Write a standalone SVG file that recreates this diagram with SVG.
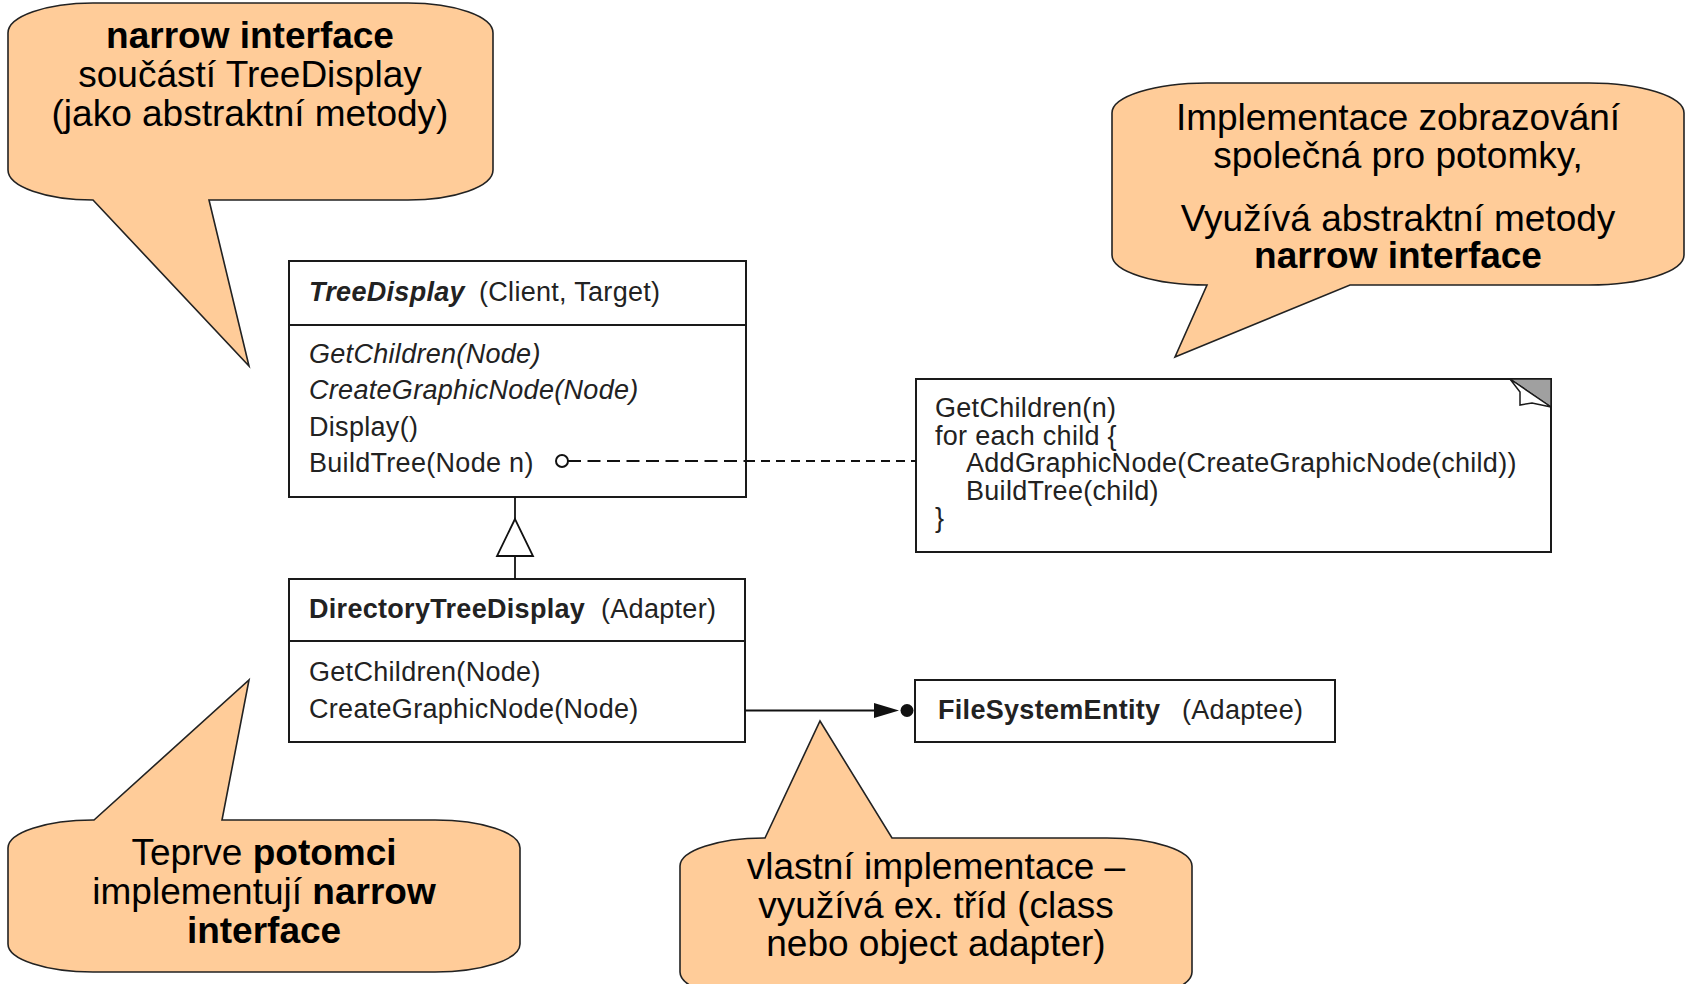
<svg xmlns="http://www.w3.org/2000/svg" width="1688" height="984" viewBox="0 0 1688 984">
<style>
.callout{fill:#ffcc99;stroke:#222;stroke-width:1.6}
.ct{font-family:"Liberation Sans",Arial,sans-serif;font-size:37px;fill:#000;text-anchor:middle}
.b{font-weight:bold}
.box{fill:#fff;stroke:#1a1a1a;stroke-width:2}
.sep{stroke:#1a1a1a;stroke-width:2}
.ut{font-family:"Liberation Sans",Arial,sans-serif;font-size:27px;fill:#222;letter-spacing:0.3px}
.it{font-style:italic}
.line{stroke:#111;stroke-width:1.8;fill:none}
</style>
<rect width="1688" height="984" fill="#fff"/>

<g id="treedisplay">
  <rect class="box" x="289" y="261" width="457" height="236"/>
  <line class="sep" x1="289" y1="325" x2="746" y2="325"/>
  <text class="ut" x="309" y="301"><tspan class="b it">TreeDisplay</tspan></text>
  <text class="ut" x="479" y="301">(Client, Target)</text>
  <text class="ut it" x="309" y="363">GetChildren(Node)</text>
  <text class="ut it" x="309" y="399">CreateGraphicNode(Node)</text>
  <text class="ut" x="309" y="436">Display()</text>
  <text class="ut" x="309" y="472">BuildTree(Node n)</text>
</g>

<g id="note">
  <rect class="box" x="916" y="379" width="635" height="173"/>
  <polygon points="1510,379 1551,379 1551,407" fill="#a0a0a0" stroke="#1a1a1a" stroke-width="1.5"/>
  <polygon points="1510,379 1551,407 1532,403 1520,405 1520,392" fill="#fff" stroke="#1a1a1a" stroke-width="1.5"/>
  <text class="ut" x="935" y="417">GetChildren(n)</text>
  <text class="ut" x="935" y="445">for each child {</text>
  <text class="ut" x="966" y="472">AddGraphicNode(CreateGraphicNode(child))</text>
  <text class="ut" x="966" y="500">BuildTree(child)</text>
  <text class="ut" x="935" y="527">}</text>
</g>

<g id="directorytreedisplay">
  <rect class="box" x="289" y="579" width="456" height="163"/>
  <line class="sep" x1="289" y1="641" x2="745" y2="641"/>
  <text class="ut b" x="309" y="618">DirectoryTreeDisplay</text>
  <text class="ut" x="601" y="618">(Adapter)</text>
  <text class="ut" x="309" y="681">GetChildren(Node)</text>
  <text class="ut" x="309" y="718">CreateGraphicNode(Node)</text>
</g>

<g id="filesystementity">
  <rect class="box" x="915" y="680" width="420" height="62"/>
  <text class="ut b" x="938" y="719">FileSystemEntity</text>
  <text class="ut" x="1182" y="719">(Adaptee)</text>
</g>

<g id="connectors">
  <line class="line" x1="515" y1="497" x2="515" y2="519"/>
  <polygon points="515,519 497,556 533,556" fill="#fff" stroke="#111" stroke-width="1.8"/>
  <line class="line" x1="515" y1="556" x2="515" y2="579"/>
  <line class="line" x1="568" y1="461" x2="746" y2="461" stroke-dasharray="13,6.5" stroke-width="2"/>
  <line class="line" x1="746" y1="461" x2="916" y2="461" stroke-dasharray="9,6" stroke-width="1.3"/>
  <circle cx="562" cy="461" r="6" fill="#fff" stroke="#111" stroke-width="2"/>
  <line class="line" x1="745" y1="710.5" x2="876" y2="710.5"/>
  <polygon points="874,703 874,718 899,710.5" fill="#111"/>
  <circle cx="907" cy="710.5" r="6.5" fill="#111"/>
</g>

<g id="callout-narrow">
  <path class="callout" d="M 8 33 A 85 30 0 0 1 93 3 L 408 3 A 85 30 0 0 1 493 33 L 493 170 A 85 30 0 0 1 408 200 L 209 200 L 249 366 L 93 200 A 85 30 0 0 1 8 170 Z"/>
  <text class="ct b" x="250" y="48">narrow interface</text>
  <text class="ct" x="250" y="87">součástí TreeDisplay</text>
  <text class="ct" x="250" y="126">(jako abstraktní metody)</text>
</g>

<g id="callout-impl">
  <path class="callout" d="M 1112 113 A 95 30 0 0 1 1207 83 L 1589 83 A 95 30 0 0 1 1684 113 L 1684 255 A 95 30 0 0 1 1589 285 L 1350 285 L 1175 357 L 1207 285 A 95 30 0 0 1 1112 255 Z"/>
  <text class="ct" x="1398" y="130">Implementace zobrazování</text>
  <text class="ct" x="1398" y="168">společná pro potomky,</text>
  <text class="ct" x="1398" y="231">Využívá abstraktní metody</text>
  <text class="ct b" x="1398" y="268">narrow interface</text>
</g>

<g id="callout-potomci">
  <path class="callout" d="M 8 848 A 85 28 0 0 1 93 820 L 94 820 L 249 680 L 222 820 L 435 820 A 85 28 0 0 1 520 848 L 520 944 A 85 28 0 0 1 435 972 L 93 972 A 85 28 0 0 1 8 944 Z"/>
  <text class="ct" x="264" y="865">Teprve <tspan class="b">potomci</tspan></text>
  <text class="ct" x="264" y="904">implementují <tspan class="b">narrow</tspan></text>
  <text class="ct b" x="264" y="943">interface</text>
</g>

<g id="callout-vlastni">
  <path class="callout" d="M 680 866 A 85 28 0 0 1 765 838 L 820 721 L 892 838 L 1107 838 A 85 28 0 0 1 1192 866 L 1192 972 A 85 28 0 0 1 1107 1000 L 765 1000 A 85 28 0 0 1 680 972 Z"/>
  <text class="ct" x="936" y="879">vlastní implementace –</text>
  <text class="ct" x="936" y="918">využívá ex. tříd (class</text>
  <text class="ct" x="936" y="956">nebo object adapter)</text>
</g>
</svg>
